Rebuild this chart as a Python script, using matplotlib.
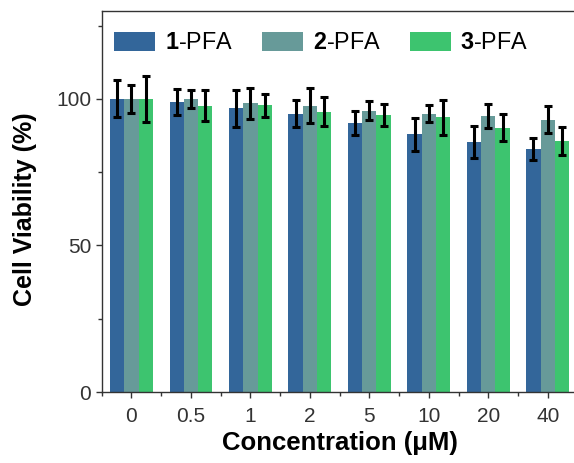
import matplotlib
matplotlib.use("Agg")
import matplotlib.pyplot as plt
import numpy as np
from matplotlib.ticker import FixedLocator

plt.rcParams['font.family'] = ['Liberation Sans', 'DejaVu Sans']
plt.rcParams['mathtext.fontset'] = 'custom'
plt.rcParams['mathtext.rm'] = 'Liberation Sans'
plt.rcParams['mathtext.bf'] = 'Liberation Sans:bold'

categories = ['0', '0.5', '1', '2', '5', '10', '20', '40']
series_names = [r'$\mathbf{1}$-PFA', r'$\mathbf{2}$-PFA', r'$\mathbf{3}$-PFA']
pfa1 = [100.0, 98.9, 96.8, 95.0, 91.8, 88.0, 85.3, 82.9]
pfa1_err = [6.3, 4.5, 6.3, 4.7, 4.0, 5.6, 5.6, 3.8]
pfa2 = [100.0, 100.0, 98.5, 97.7, 96.0, 95.0, 94.2, 92.9]
pfa2_err = [4.8, 3.2, 5.2, 5.9, 3.2, 3.0, 4.0, 4.6]
pfa3 = [100.0, 97.7, 97.9, 95.7, 94.6, 93.7, 90.2, 85.6]
pfa3_err = [7.8, 5.3, 3.9, 5.0, 3.8, 6.0, 4.5, 4.9]
colors = ['#33669A', '#679A99', '#3DC46F']

fig = plt.figure(figsize=(5.74, 4.63), dpi=100)
ax = fig.add_axes([101.7/574, 71/463, 475.8/574, 381/463])

x = np.arange(len(categories))
w = 0.24
for i, (vals, errs) in enumerate([(pfa1, pfa1_err), (pfa2, pfa2_err), (pfa3, pfa3_err)]):
    ax.bar(x + (i - 1) * w, vals, width=w, color=colors[i], label=series_names[i], zorder=2)
    ax.errorbar(x + (i - 1) * w, vals, yerr=errs, fmt='none', ecolor='black',
                elinewidth=2.2, capsize=2.8, capthick=2.2, zorder=3)

ax.set_xlim(-0.5, 7.5)
ax.set_ylim(0, 130)
ax.set_xticks(x)
ax.set_xticklabels(categories)
ax.xaxis.set_minor_locator(FixedLocator(np.arange(-0.5, 8, 1.0)))
ax.set_yticks([0, 50, 100])
ax.yaxis.set_minor_locator(FixedLocator([25, 75, 125]))
ax.tick_params(axis='both', which='major', direction='out', length=4.5, width=1,
               labelsize=15, colors='#333333', labelcolor='#333333')
ax.tick_params(axis='both', which='minor', direction='out', length=3, width=1, colors='#333333')
ax.tick_params(axis='x', pad=6)
ax.tick_params(axis='y', pad=3)
for s in ax.spines.values():
    s.set_color('#333333')
    s.set_linewidth(1)

ax.set_xlabel('Concentration (μM)', fontsize=18.5, fontweight='bold', labelpad=4)
ax.set_ylabel('Cell Viability (%)', fontsize=18, fontweight='bold', labelpad=11.5)
ax.yaxis.set_label_coords(-0.135, 0.48)

leg = ax.legend(loc='upper left', bbox_to_anchor=(0.012, 0.965), ncol=3, frameon=False,
                fontsize=16.8, handlelength=1.76, handleheight=0.86, handletextpad=0.4,
                columnspacing=1.25, borderpad=0.3, borderaxespad=0)

fig.savefig('out.png', dpi=100)
